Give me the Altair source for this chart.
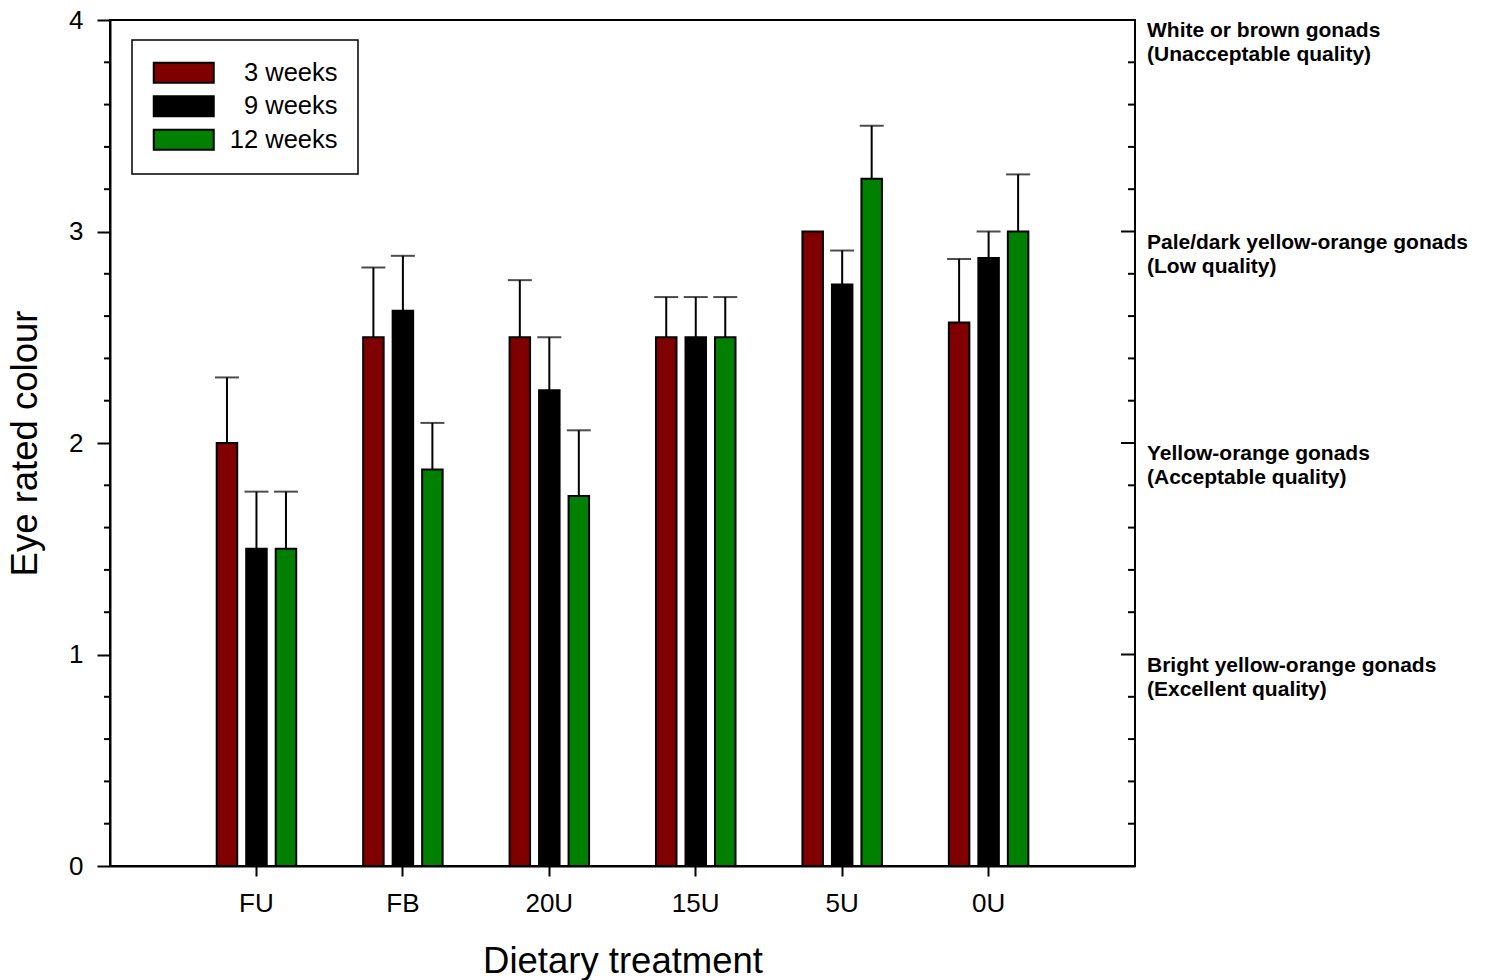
import altair as alt
import pandas as pd

# ---- data ----
categories = ["FU", "FB", "20U", "15U", "5U", "0U"]
series = ["3 weeks", "9 weeks", "12 weeks"]
colors = ["#800000", "#000000", "#008000"]

mean_3w = [2.0, 2.5, 2.5, 2.5, 3.0, 2.57]
err_3w = [0.31, 0.33, 0.27, 0.19, 0.0, 0.30]
mean_9w = [1.5, 2.625, 2.25, 2.5, 2.75, 2.875]
err_9w = [0.27, 0.26, 0.25, 0.19, 0.16, 0.125]
mean_12w = [1.5, 1.875, 1.75, 2.5, 3.25, 3.0]
err_12w = [0.27, 0.22, 0.31, 0.19, 0.25, 0.27]

y_major = [0, 1, 2, 3, 4]
y_minor = [0.2, 0.4, 0.6, 0.8, 1.2, 1.4, 1.6, 1.8, 2.2, 2.4, 2.6, 2.8,
           3.2, 3.4, 3.6, 3.8]
right_major = [1, 2, 3]

quality_levels = [4, 3, 2, 1]
quality_labels = [
    "White or brown gonads\n(Unacceptable quality)",
    "Pale/dark yellow-orange gonads\n(Low quality)",
    "Yellow-orange gonads\n(Acceptable quality)",
    "Bright yellow-orange gonads\n(Excellent quality)",
]

# ---- tables ----
rows = []
for s, means, errs in zip(series, [mean_3w, mean_9w, mean_12w], [err_3w, err_9w, err_12w]):
    for c, m, e in zip(categories, means, errs):
        rows.append({"treatment": c, "weeks": s, "mean": m, "err": e, "top": m + e})
df = pd.DataFrame(rows)
minor_df = pd.DataFrame({"v": y_minor})
rmajor_df = pd.DataFrame({"v": right_major})
qual_df = pd.DataFrame({"level": quality_levels, "label": quality_labels})

FONT = "Arial, Liberation Sans, sans-serif"
W, H = 1025, 846

x_enc = alt.X(
    "treatment:N", sort=categories,
    scale=alt.Scale(paddingInner=0, paddingOuter=0.5),
    axis=alt.Axis(title="Dietary treatment", labelAngle=0, labelAlign="center",
                  labelBaseline="top", tickSize=10,
                  labelPadding=14, titlePadding=27, labelFontSize=26,
                  titleFontSize=36.5),
)
xo_enc = alt.XOffset("weeks:N", sort=series,
                     scale=alt.Scale(range=[33.5, 113], paddingInner=0.305,
                                     paddingOuter=0))
y_axis = alt.Axis(title="Eye rated colour", values=y_major, format="d",
                  tickSize=13, labelPadding=14, titlePadding=24,
                  labelFontSize=26, titleFontSize=36.5, orient="left")
y_scale = alt.Scale(domain=[0, 4], nice=False, zero=True)

bars = alt.Chart(df).mark_bar(stroke="black", strokeWidth=2).encode(
    x=x_enc,
    xOffset=xo_enc,
    y=alt.Y("mean:Q", scale=y_scale, axis=y_axis),
    color=alt.Color("weeks:N", sort=series,
                    scale=alt.Scale(domain=series, range=colors),
                    legend=alt.Legend(title=None)),
)

err_base = alt.Chart(df).transform_filter("datum.err > 0")
err_rule = err_base.mark_rule(color="black", strokeWidth=2).encode(
    x=alt.X("treatment:N", sort=categories),
    xOffset=alt.XOffset("weeks:N", sort=series),
    y=alt.Y("mean:Q"),
    y2="top:Q",
)
err_cap = err_base.mark_tick(color="black", thickness=2, size=24).encode(
    x=alt.X("treatment:N", sort=categories),
    xOffset=alt.XOffset("weeks:N", sort=series),
    y=alt.Y("top:Q"),
)

left_minor = alt.Chart(minor_df).mark_rule(color="black", strokeWidth=2).encode(
    y=alt.Y("v:Q"), x=alt.value(-6), x2=alt.value(0)
)
right_minor = alt.Chart(minor_df).mark_rule(color="black", strokeWidth=2).encode(
    y=alt.Y("v:Q"), x=alt.value(W - 7), x2=alt.value(W)
)
right_major_t = alt.Chart(rmajor_df).mark_rule(color="black", strokeWidth=2).encode(
    y=alt.Y("v:Q"), x=alt.value(W - 14), x2=alt.value(W)
)
qual_text = alt.Chart(qual_df).mark_text(
    align="left", baseline="top", fontSize=21, fontWeight="bold",
    lineBreak="\n", lineHeight=24, font=FONT, color="black",
).encode(
    x=alt.value(W + 12),
    y=alt.Y("level:Q"),
    text="label:N",
)

chart = alt.layer(
    bars, err_rule, err_cap, left_minor, right_minor, right_major_t, qual_text
).properties(
    width=W, height=H,
    autosize=alt.AutoSizeParams(type="none"),
    padding={"left": 110, "top": 20, "right": 351, "bottom": 114},
).configure(
    font=FONT,
).configure_view(
    stroke="black", strokeWidth=2,
).configure_axis(
    domainColor="black", domainWidth=2, tickColor="black", tickWidth=2,
    labelColor="black", titleColor="black", titleFontWeight="normal",
    grid=False, labelFont=FONT, titleFont=FONT,
).configure_legend(
    orient="none", legendX=22, legendY=20, padding=20,
    strokeColor="black", strokeWidth=1.5, fillColor="white",
    symbolType="M-3,-1H3V1H-3Z", symbolSize=400,
    symbolStrokeColor="black", symbolStrokeWidth=2, symbolOffset=19,
    labelAlign="right", labelOffset=141, labelFontSize=25.5, labelColor="black",
    labelLimit=400, labelFont=FONT, rowPadding=4.5,
)

chart.save("out.html", embed_options={"renderer": "svg", "actions": False})
